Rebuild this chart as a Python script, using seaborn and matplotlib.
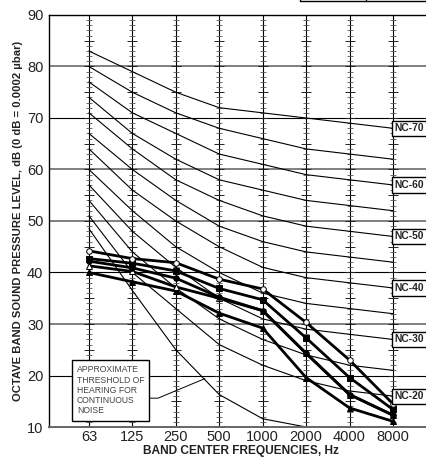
import numpy as np
import pandas as pd
import matplotlib.pyplot as plt
import seaborn as sns
from matplotlib.lines import Line2D

sns.set_style('white')
plt.rcParams['font.family'] = ['Liberation Sans', 'DejaVu Sans']

bands = ['63', '125', '250', '500', '1000', '2000', '4000', '8000']

# NC curves, dB per octave band
nc_curves = {
    'NC-70': [83, 79, 75, 72, 71, 70, 69, 68],
    'NC-65': [80, 75, 71, 68, 66, 64, 63, 62],
    'NC-60': [77, 71, 67, 63, 61, 59, 58, 57],
    'NC-55': [74, 67, 62, 58, 56, 54, 53, 52],
    'NC-50': [71, 64, 58, 54, 51, 49, 48, 47],
    'NC-45': [67, 60, 54, 49, 46, 44, 43, 42],
    'NC-40': [64, 56, 50, 45, 41, 39, 38, 37],
    'NC-35': [60, 52, 45, 40, 36, 34, 33, 32],
    'NC-30': [57, 48, 41, 35, 31, 29, 28, 27],
    'NC-25': [54, 44, 37, 31, 27, 24, 22, 21],
    'NC-20': [51, 40, 33, 26, 22, 19, 17, 16],
}
labelled = ['NC-70', 'NC-60', 'NC-50', 'NC-40', 'NC-30', 'NC-20']

threshold = [48.5, 36.5, 25, 16.3, 11.6, 10]

# measured spectra (thick lines)
meas_a = [44.2, 42.7, 41.9, 38.7, 36.8, 30.3, 23.0, 14.5]
meas_b = [42.7, 41.8, 40.3, 36.9, 34.7, 27.3, 19.6, 13.4]
meas_c = [42.2, 40.9, 38.9, 35.2, 32.6, 24.3, 16.3, 12.3]
meas_d = [41.3, 40.2, 37.2, 35.0, 32.6, 24.3, 16.3, 12.3]
meas_e = [40.0, 38.2, 36.4, 32.1, 29.2, 19.6, 13.7, 11.1]

x = np.arange(len(bands))

fig = plt.figure(figsize=(4.27, 4.61), dpi=100)
ax = fig.add_axes([49 / 427, 34 / 461, 383.9 / 427, 412 / 461])
ax.set_xlim(-0.92, 7.92)
ax.set_ylim(10, 90)

# horizontal grid
for lvl in range(20, 90, 10):
    if lvl in (30, 50, 60, 80):
        ax.axhline(lvl, color='#808080', lw=1.4, zorder=1)
    else:
        ax.axhline(lvl, color='black', lw=0.8, zorder=1)

# vertical ruler lines at each band
levels = np.arange(10, 91)
for xi in x:
    ax.axvline(xi, color='black', lw=0.8, zorder=1)
    small = levels[levels % 5 != 0]
    big = levels[levels % 5 == 0]
    ax.plot(np.full(len(small), xi), small, ls='none', marker='_', ms=4,
            mew=0.6, color='#555555', zorder=1)
    ax.plot(np.full(len(big), xi), big, ls='none', marker='_', ms=6.5,
            mew=0.7, color='#222222', zorder=1)

# NC curves
nc_df = pd.DataFrame([(name, xi, v) for name, vals in nc_curves.items()
                      for xi, v in zip(x, vals)], columns=['curve', 'band', 'level'])
sns.lineplot(data=nc_df, x='band', y='level', units='curve', estimator=None,
             color='black', lw=0.8, ax=ax, zorder=2)

sns.lineplot(x=x[:len(threshold)], y=threshold, color='black', lw=0.8, ax=ax, zorder=2)

# measured spectra
meas = [
    (meas_e, '^', 'black'),
    (meas_d, '^', 'white'),
    (meas_c, 'o', 'black'),
    (meas_b, 's', 'black'),
    (meas_a, 'o', 'white'),
]
for vals, mk, fc in meas:
    sns.lineplot(x=x, y=vals, color='black', lw=2.0, marker=mk, markersize=4,
                 markerfacecolor=fc, markeredgecolor='black', markeredgewidth=0.7,
                 ax=ax, zorder=3)

for name in labelled:
    ax.text(7.04, nc_curves[name][-1], name, ha='left', va='center', fontsize=7.4,
            fontweight='bold', color='#222222', zorder=5,
            bbox=dict(boxstyle='square,pad=0.25', fc='white', ec='black', lw=1.0))

# threshold annotation
ax.text(-0.28, 17.1, 'APPROXIMATE\nTHRESHOLD OF\nHEARING FOR\nCONTINUOUS\nNOISE',
        ha='left', va='center', fontsize=6.2, color='#444444', linespacing=1.18,
        zorder=5, bbox=dict(boxstyle='square,pad=0.6', fc='white', ec='black', lw=1.0))
ax.plot([1.33, 1.59, 2.67], [15.6, 15.6, 19.4], color='black', lw=0.7, zorder=4)

ax.set_xticks(x)
ax.set_xticklabels(bands)
ax.set_yticks(range(10, 100, 10))
ax.tick_params(axis='x', length=0, labelsize=10.5, pad=2, colors='#222222')
ax.tick_params(axis='y', length=0, labelsize=10.5, pad=4, colors='#222222')
ax.set_xlabel('BAND CENTER FREQUENCIES, Hz', fontsize=8.6, fontweight='bold',
              labelpad=1, color='#222222')
ax.set_ylabel('OCTAVE BAND SOUND PRESSURE LEVEL, dB (0 dB = 0.0002 \u00b5bar)',
              fontsize=8.1, fontweight='bold', labelpad=3, color='#222222')
for side in ('left', 'top'):
    ax.spines[side].set_color('black')
    ax.spines[side].set_linewidth(1.0)
ax.spines['bottom'].set_color('#666666')
ax.spines['bottom'].set_linewidth(1.4)
ax.spines['right'].set_visible(False)

# fragment of a table at the top edge
for seg in [((300, 300), (461, 459.5)), ((366, 366), (461, 459.5)),
            ((426, 426), (461, 459.5)), ((300, 427), (459.5, 459.5))]:
    fig.add_artist(Line2D([seg[0][0] / 427, seg[0][1] / 427],
                          [seg[1][0] / 461, seg[1][1] / 461],
                          color='black', lw=1.0))

fig.savefig('out.png', dpi=100)
